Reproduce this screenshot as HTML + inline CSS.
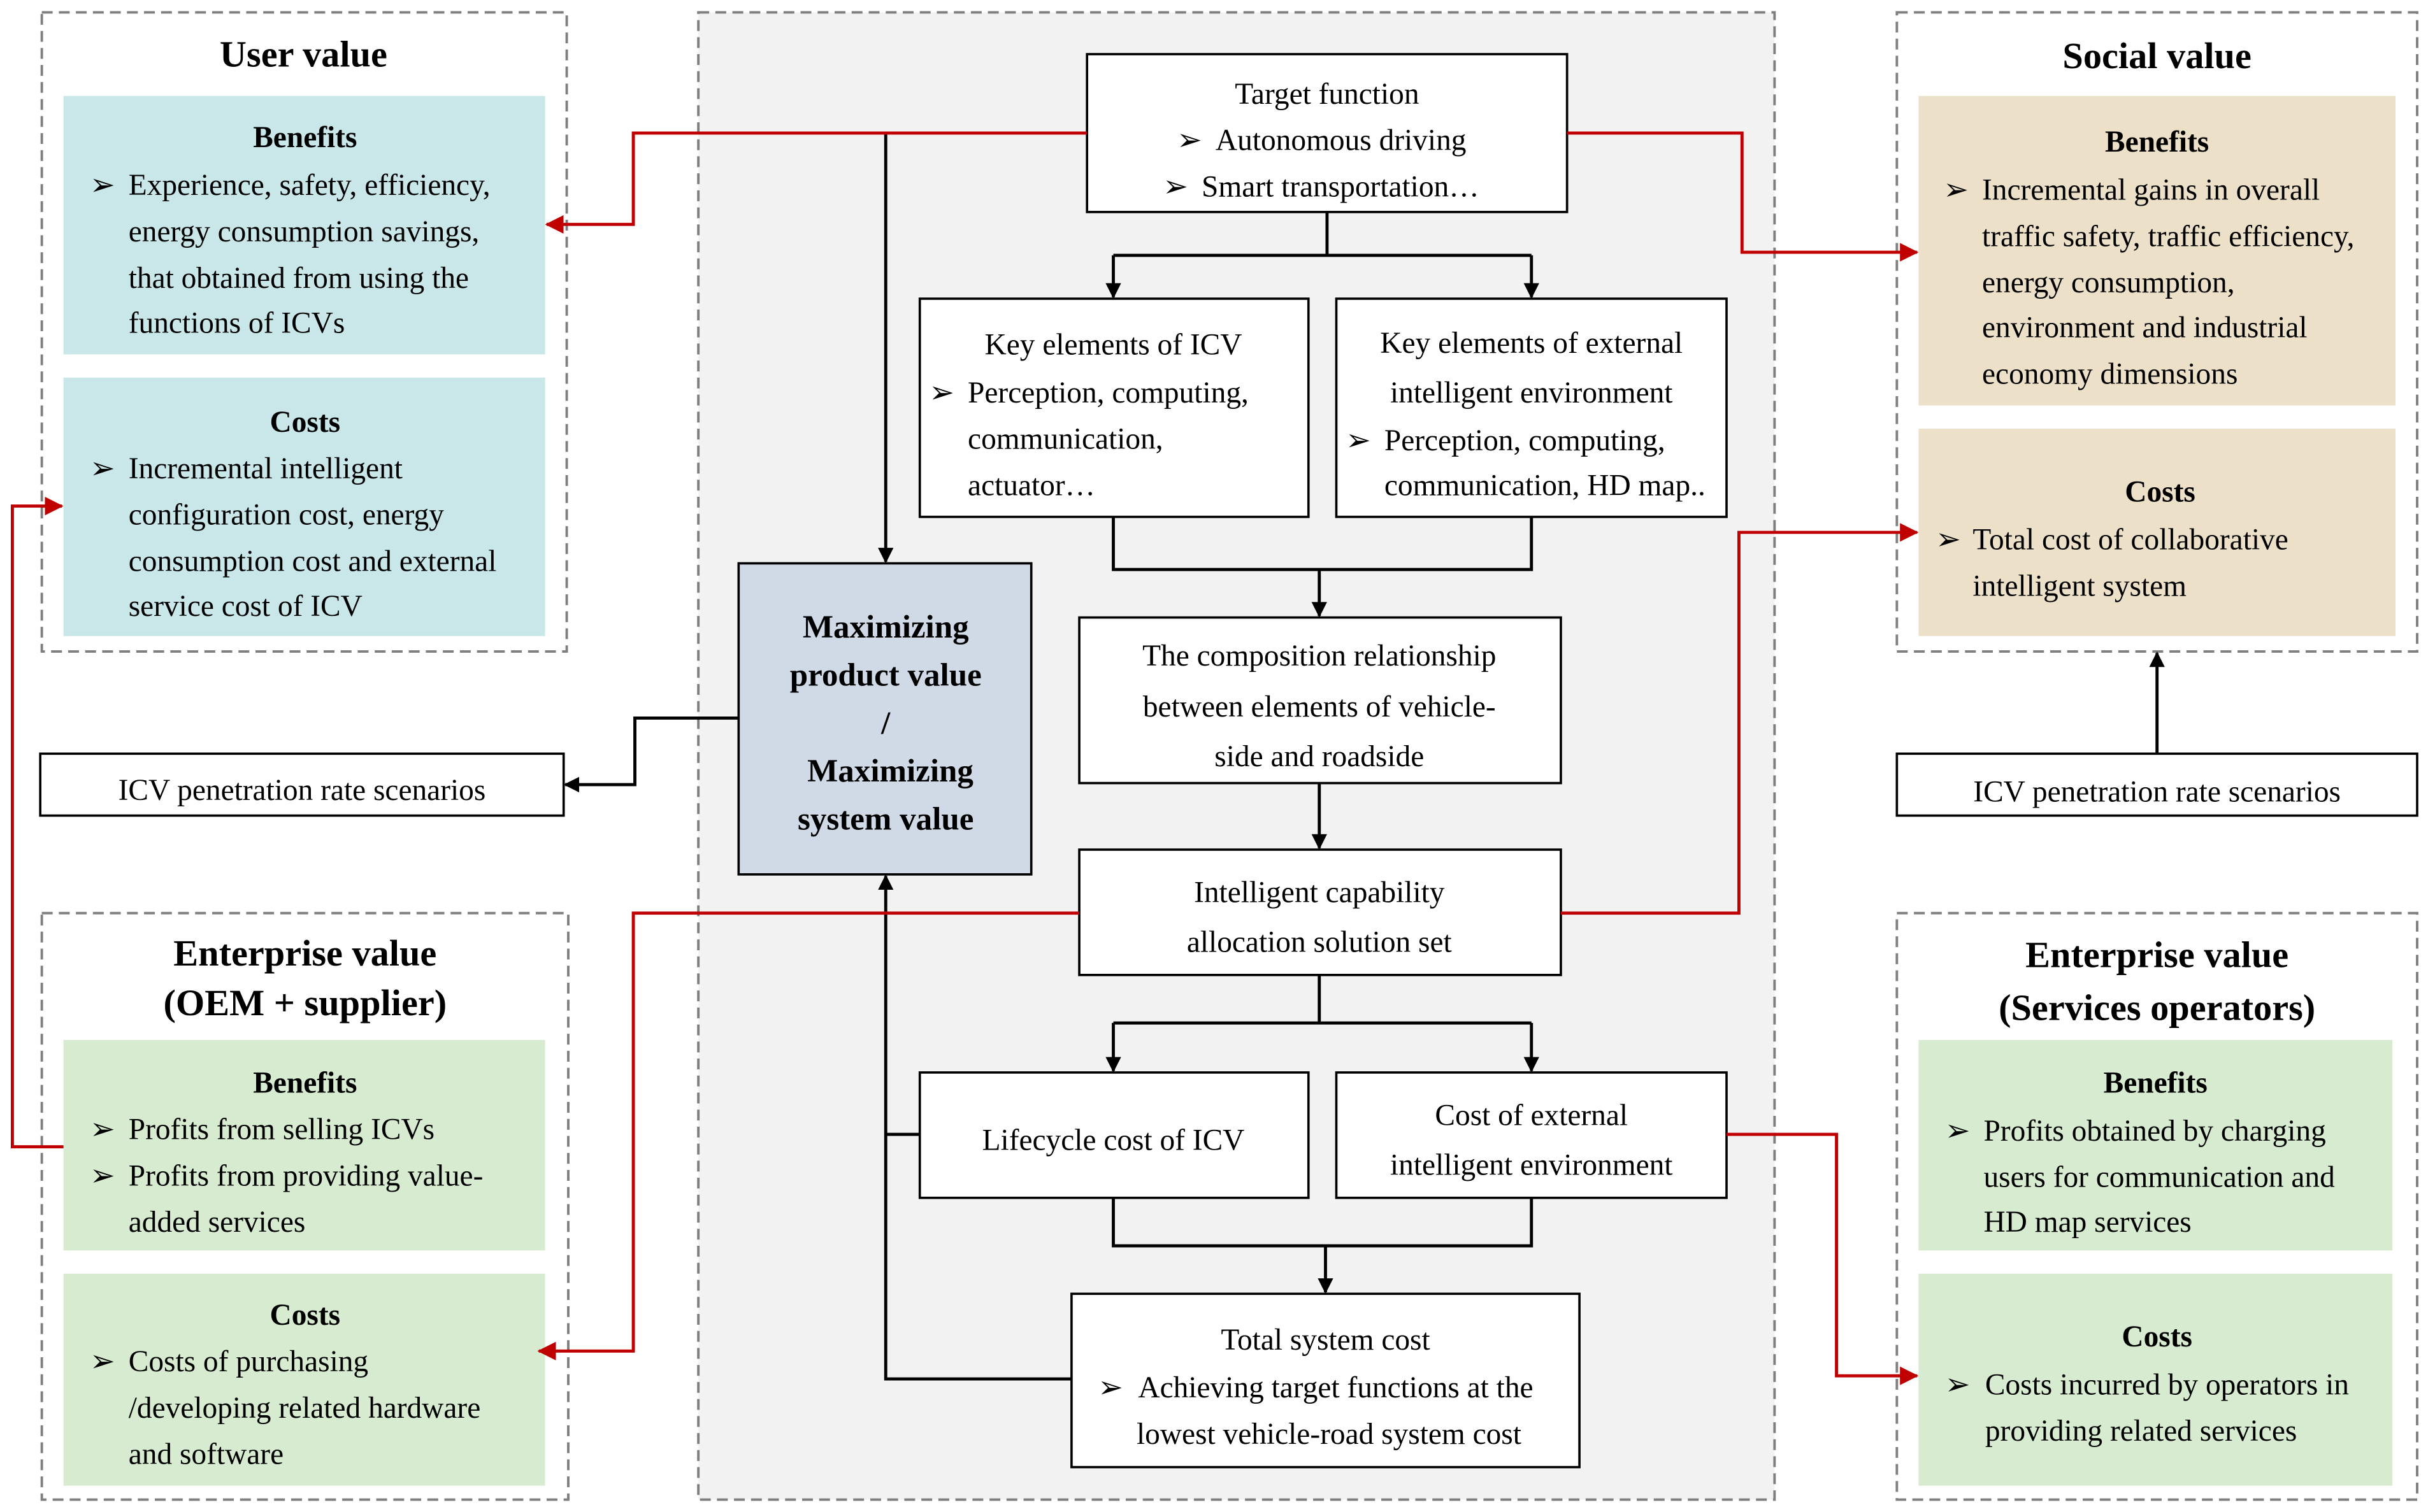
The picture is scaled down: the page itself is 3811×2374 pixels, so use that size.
<!DOCTYPE html>
<html><head><meta charset="utf-8"><style>
html,body{margin:0;padding:0;background:#fff}
svg{display:block}
text{font-family:"Liberation Serif","Times New Roman",serif;font-size:19.5px;fill:#000}
.b{font-weight:bold}
.t{font-weight:bold;font-size:24px}
.c{text-anchor:middle}
</style></head><body>
<svg width="3811" height="2374" viewBox="0 0 1568 977" preserveAspectRatio="none" xmlns="http://www.w3.org/2000/svg">
<defs>
<marker id="ak" markerWidth="10" markerHeight="10" refX="9" refY="5" orient="auto" markerUnits="userSpaceOnUse"><path d="M0,0 L10,5 L0,10 z" fill="#000"/></marker>
<marker id="ar" markerWidth="12" markerHeight="12" refX="11" refY="6" orient="auto" markerUnits="userSpaceOnUse"><path d="M0,0 L12,6 L0,12 z" fill="#c00000"/></marker>
</defs>
<!-- center panel -->
<rect x="451" y="8" width="695" height="961" fill="#f2f2f2" stroke="#7f7f7f" stroke-width="1.6" stroke-dasharray="7,4"/>
<!-- side panels -->
<g fill="#fff" stroke="#7f7f7f" stroke-width="1.6" stroke-dasharray="7,4">
<rect x="27" y="8" width="339" height="413"/>
<rect x="1225" y="8" width="336" height="413"/>
<rect x="27" y="590" width="340" height="379"/>
<rect x="1225" y="590" width="336" height="379"/>
</g>
<!-- colored boxes -->
<rect x="41" y="62" width="311" height="167" fill="#c9e6e9"/>
<rect x="41" y="244" width="311" height="167" fill="#c9e6e9"/>
<rect x="1239" y="62" width="308" height="200" fill="#ede0c8"/>
<rect x="1239" y="277" width="308" height="134" fill="#ede0c8"/>
<rect x="41" y="672" width="311" height="136" fill="#d6ebcf"/>
<rect x="41" y="823" width="311" height="137" fill="#d6ebcf"/>
<rect x="1239" y="672" width="306" height="136" fill="#d6ebcf"/>
<rect x="1239" y="823" width="306" height="137" fill="#d6ebcf"/>
<!-- white boxes -->
<g fill="#fff" stroke="#000" stroke-width="1.5">
<rect x="702" y="35" width="310" height="102"/>
<rect x="594" y="193" width="251" height="141"/>
<rect x="863" y="193" width="252" height="141"/>
<rect x="697" y="399" width="311" height="107"/>
<rect x="697" y="549" width="311" height="81"/>
<rect x="594" y="693" width="251" height="81"/>
<rect x="863" y="693" width="252" height="81"/>
<rect x="692" y="836" width="328" height="112"/>
<rect x="26" y="487" width="338" height="40"/>
<rect x="1225" y="487" width="336" height="40"/>
</g>
<rect x="477" y="364" width="189" height="201" fill="#d0dae6" stroke="#000" stroke-width="1.5"/>
<!-- black connectors -->
<g fill="none" stroke="#000" stroke-width="2">
<path d="M572,86 V363" marker-end="url(#ak)"/>
<path d="M857,137 V165 M719,165 H989"/>
<path d="M719,165 V192" marker-end="url(#ak)"/>
<path d="M989,165 V192" marker-end="url(#ak)"/>
<path d="M719,334 V368 H989 V334"/>
<path d="M852,368 V398" marker-end="url(#ak)"/>
<path d="M852,506 V548" marker-end="url(#ak)"/>
<path d="M852,630 V661 M719,661 H989"/>
<path d="M719,661 V692" marker-end="url(#ak)"/>
<path d="M989,661 V692" marker-end="url(#ak)"/>
<path d="M719,774 V805 H989 V774"/>
<path d="M856,805 V835" marker-end="url(#ak)"/>
<path d="M692,891 H572 V566" marker-end="url(#ak)"/>
<path d="M594,733 H572"/>
<path d="M477,464 H410 V507 H365" marker-end="url(#ak)"/>
<path d="M1393,487 V422" marker-end="url(#ak)"/>
</g>
<!-- red connectors -->
<g fill="none" stroke="#c00000" stroke-width="2">
<path d="M702,86 H409 V145 H353" marker-end="url(#ar)"/>
<path d="M1012,86 H1125 V163 H1238" marker-end="url(#ar)"/>
<path d="M1008,590 H1123 V344 H1238" marker-end="url(#ar)"/>
<path d="M697,590 H409 V873 H348" marker-end="url(#ar)"/>
<path d="M1115,733 H1186 V889 H1238" marker-end="url(#ar)"/>
<path d="M41,741 H8 V327 H40" marker-end="url(#ar)"/>
</g>
<!-- Text: user value -->
<text class="t c" x="196" y="43">User value</text>
<text class="b c" x="197" y="95">Benefits</text>
<text x="58" y="126">➢ </text><text x="83" y="126">Experience, safety, efficiency,</text>
<text x="83" y="156">energy consumption savings,</text>
<text x="83" y="186">that obtained from using the</text>
<text x="83" y="215">functions of ICVs</text>
<text class="b c" x="197" y="279">Costs</text>
<text x="58" y="309">➢ </text><text x="83" y="309">Incremental intelligent</text>
<text x="83" y="339">configuration cost, energy</text>
<text x="83" y="369">consumption cost and external</text>
<text x="83" y="398">service cost of ICV</text>
<text class="c" x="195" y="517">ICV penetration rate scenarios</text>
<!-- enterprise OEM -->
<text class="t c" x="197" y="624">Enterprise value</text>
<text class="t c" x="197" y="656">(OEM + supplier)</text>
<text class="b c" x="197" y="706">Benefits</text>
<text x="58" y="736">➢ </text><text x="83" y="736">Profits from selling ICVs</text>
<text x="58" y="766">➢ </text><text x="83" y="766">Profits from providing value-</text>
<text x="83" y="796">added services</text>
<text class="b c" x="197" y="856">Costs</text>
<text x="58" y="886">➢ </text><text x="83" y="886">Costs of purchasing</text>
<text x="83" y="916">/developing related hardware</text>
<text x="83" y="946">and software</text>
<!-- social value -->
<text class="t c" x="1393" y="44">Social value</text>
<text class="b c" x="1393" y="98">Benefits</text>
<text x="1255" y="129">➢ </text><text x="1280" y="129">Incremental gains in overall</text>
<text x="1280" y="159">traffic safety, traffic efficiency,</text>
<text x="1280" y="189">energy consumption,</text>
<text x="1280" y="218">environment and industrial</text>
<text x="1280" y="248">economy dimensions</text>
<text class="b c" x="1395" y="324">Costs</text>
<text x="1250" y="355">➢ </text><text x="1274" y="355">Total cost of collaborative</text>
<text x="1274" y="385">intelligent system</text>
<text class="c" x="1393" y="518">ICV penetration rate scenarios</text>
<!-- enterprise services -->
<text class="t c" x="1393" y="625">Enterprise value</text>
<text class="t c" x="1393" y="659">(Services operators)</text>
<text class="b c" x="1392" y="706">Benefits</text>
<text x="1256" y="737">➢ </text><text x="1281" y="737">Profits obtained by charging</text>
<text x="1281" y="767">users for communication and</text>
<text x="1281" y="796">HD map services</text>
<text class="b c" x="1393" y="870">Costs</text>
<text x="1256" y="901">➢ </text><text x="1282" y="901">Costs incurred by operators in</text>
<text x="1282" y="931">providing related services</text>
<!-- center texts -->
<text class="c" x="857" y="67">Target function</text>
<text x="760" y="97">➢ </text><text x="785" y="97">Autonomous driving</text>
<text x="751" y="127">➢ </text><text x="776" y="127">Smart transportation…</text>
<text class="c" x="719" y="229">Key elements of ICV</text>
<text x="600" y="260">➢ </text><text x="625" y="260">Perception, computing,</text>
<text x="625" y="290">communication,</text>
<text x="625" y="320">actuator…</text>
<text class="c" x="989" y="228">Key elements of external</text>
<text class="c" x="989" y="260">intelligent environment</text>
<text x="869" y="291">➢ </text><text x="894" y="291">Perception, computing,</text>
<text x="894" y="320">communication, HD map..</text>
<text class="c" x="852" y="430">The composition relationship</text>
<text class="c" x="852" y="463">between elements of vehicle-</text>
<text class="c" x="852" y="495">side and roadside</text>
<text class="c" x="852" y="583">Intelligent capability</text>
<text class="c" x="852" y="615">allocation solution set</text>
<text class="c" x="719" y="743">Lifecycle cost of  ICV</text>
<text class="c" x="989" y="727">Cost of external</text>
<text class="c" x="989" y="759">intelligent environment</text>
<text class="c" x="856" y="872">Total system cost</text>
<text x="709" y="903">➢ </text><text x="735" y="903">Achieving target functions at the</text>
<text x="734" y="933">lowest vehicle-road system cost</text>
<text class="b c" x="572" y="412" style="font-size:21px">Maximizing</text>
<text class="b c" x="572" y="443" style="font-size:21px">product value</text>
<text class="b c" x="572" y="474" style="font-size:21px">/</text>
<text class="b c" x="575" y="505" style="font-size:21px">Maximizing</text>
<text class="b c" x="572" y="536" style="font-size:21px">system value</text>
</svg>
</body></html>
